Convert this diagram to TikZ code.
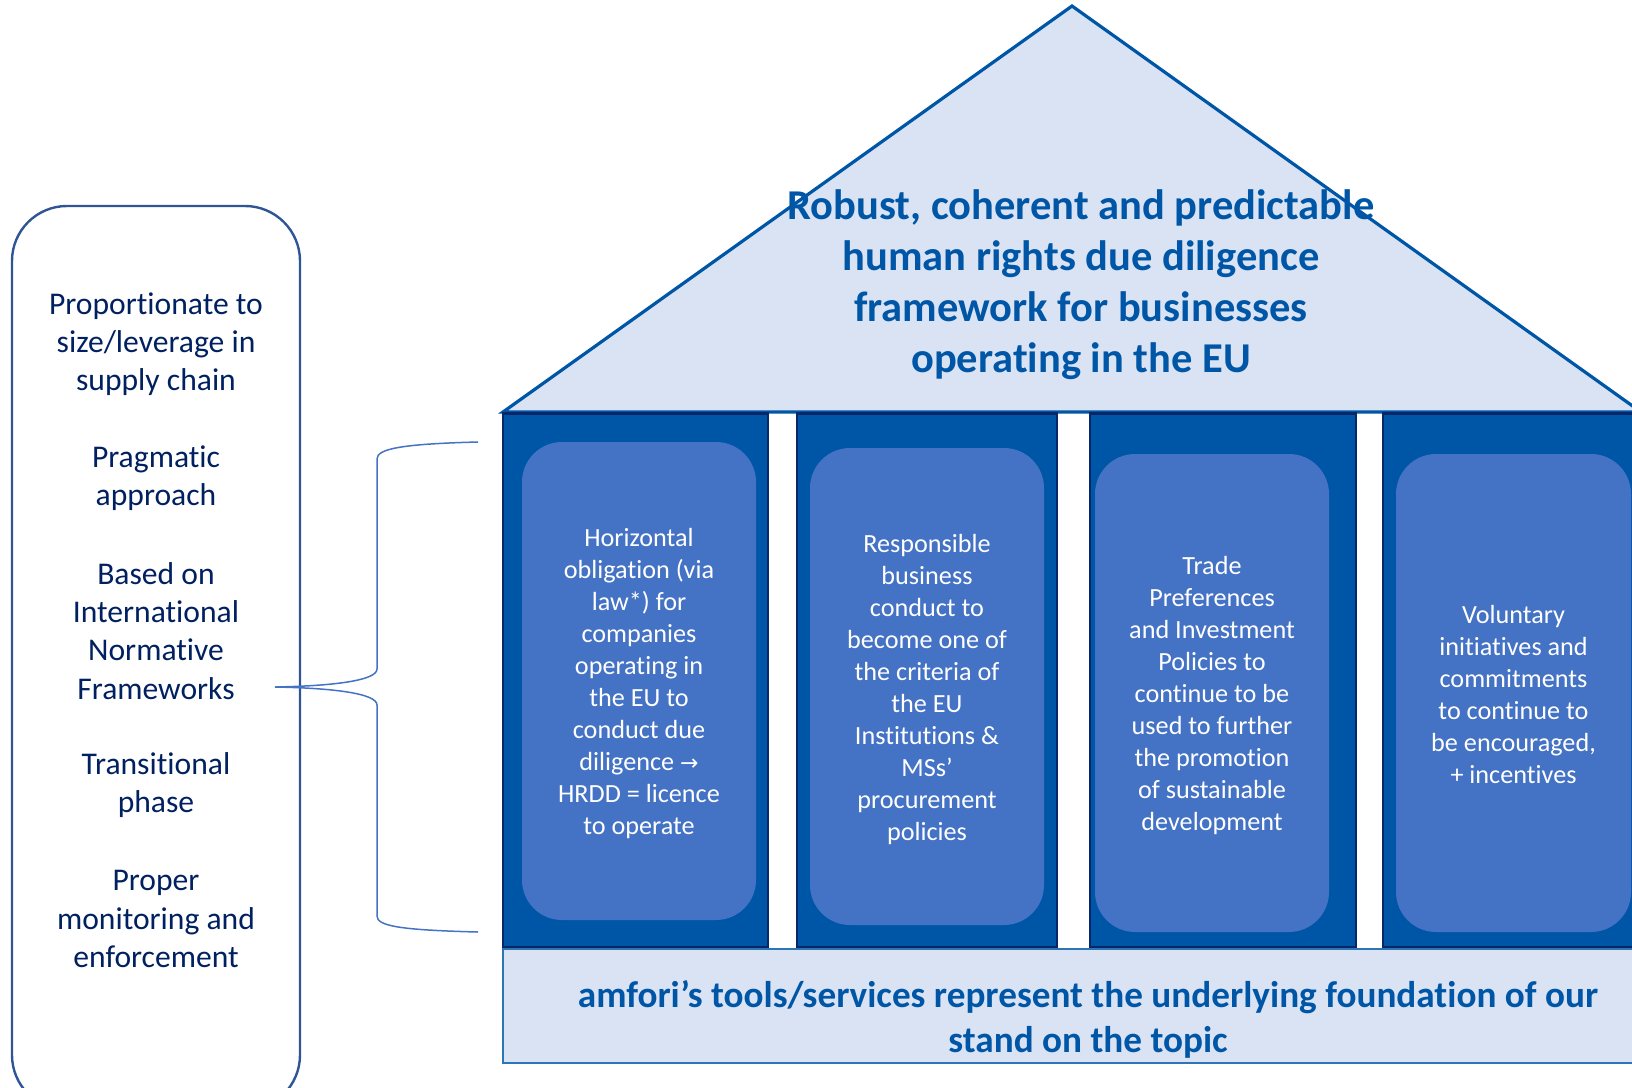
\documentclass[tikz,border=0pt]{standalone}
\usepackage{fontspec}
\setmainfont{Carlito}[Ligatures=NoCommon]
\newfontfamily\djv{DejaVu Sans}
\definecolor{roofFill}{RGB}{218,227,243}
\definecolor{roofLine}{RGB}{0,86,166}
\definecolor{pillarFill}{RGB}{0,86,166}
\definecolor{pillarLine}{RGB}{8,38,104}
\definecolor{boxFill}{RGB}{68,114,196}
\definecolor{titleBlue}{RGB}{0,86,166}
\definecolor{foundLine}{RGB}{46,117,182}
\definecolor{leftText}{RGB}{0,32,96}
\definecolor{leftLine}{RGB}{47,85,151}
\definecolor{braceBlue}{RGB}{68,114,196}
\begin{document}
\begin{tikzpicture}[x=1pt,y=-1pt,
  roofstyle/.style={draw=roofLine,fill=roofFill,line width=3.2pt,line join=miter},
  pillar/.style={draw=pillarLine,fill=pillarFill,line width=2.6pt,outer sep=0pt,inner sep=0pt},
  innerbox/.style={fill=boxFill,rounded corners=40pt,inner sep=0pt,outer sep=0pt},
  boxtext/.style={text=white,align=center,font=\fontsize{26.2}{32}\selectfont},
  titletext/.style={text=titleBlue,align=center,font=\bfseries\fontsize{42.5}{51}\selectfont},
  found/.style={draw=foundLine,fill=roofFill,line width=2.2pt,outer sep=0pt,inner sep=0pt},
  foundtext/.style={text=titleBlue,align=center,font=\bfseries\fontsize{37.2}{45}\selectfont},
  leftbox/.style={draw=leftLine,line width=2.4pt,rounded corners=55pt,inner sep=0pt},
  lefttext/.style={text=leftText,align=center,font=\fontsize{31.6}{38.2}\selectfont},
  bracestyle/.style={draw=braceBlue,line width=1.5pt}
]
\useasboundingbox (0,0) rectangle (1632,1087);
\clip (0,0) rectangle (1632,1087);

% roof
\draw[roofstyle] (503,412) -- (1072,6) -- (1641,412) -- cycle;
\node[titletext] (title) at (1081,285) {Robust, coherent and predictable\\human rights due diligence\\framework for businesses\\operating in the EU};

% pillars
\node[pillar,minimum width=265pt,minimum height=534pt] (p1) at (635.5,680.5) {};
\node[pillar,minimum width=260pt,minimum height=534pt] (p2) at (927,680.5) {};
\node[pillar,minimum width=266pt,minimum height=534pt] (p3) at (1223,680.5) {};
\node[pillar,minimum width=266pt,minimum height=534pt] (p4) at (1516,680.5) {};

% inner boxes
\node[innerbox,minimum width=234pt,minimum height=478pt] (b1) at (639,681) {};
\node[innerbox,minimum width=234pt,minimum height=477pt] (b2) at (927,686.5) {};
\node[innerbox,minimum width=234pt,minimum height=478pt] (b3) at (1212,693) {};
\node[innerbox,minimum width=235pt,minimum height=478pt] (b4) at (1513.5,693) {};
\node[boxtext] (t1) at ([yshift=-3pt]b1.center)
  {Horizontal\\obligation (via\\law*) for\\companies\\operating in\\the EU to\\conduct due\\diligence {\djv\fontsize{22}{32}\selectfont →}\\HRDD = licence\\to operate};
\node[boxtext] (t2) at ([yshift=-3pt]b2.center)
  {Responsible\\business\\conduct to\\become one of\\the criteria of\\the EU\\Institutions \&\\MSs’\\procurement\\policies};
\node[boxtext] (t3) at ([yshift=-3pt]b3.center)
  {Trade\\Preferences\\and Investment\\Policies to\\continue to be\\used to further\\the promotion\\of sustainable\\development};
\node[boxtext] (t4) at ([yshift=-1pt]b4.center)
  {Voluntary\\initiatives and\\commitments\\to continue to\\be encouraged,\\+ incentives};

% foundation
\node[found,minimum width=1180pt,minimum height=114pt] (found) at (1093,1006) {};
\node[foundtext] (ftext) at (1088,1019) {amfori’s tools/services represent the underlying foundation of our\\stand on the topic};

% left box
\node[leftbox,minimum width=288pt,minimum height=904pt] (lbox) at (156,658) {};
\node[lefttext] (l1) at (156,344) {Proportionate to\\size/leverage in\\supply chain};
\node[lefttext] (l2) at (156,478) {Pragmatic\\approach};
\node[lefttext] (l3) at (156,631) {Based on\\International\\Normative\\Frameworks};
\node[lefttext] (l4) at (156,785) {Transitional\\phase};
\node[lefttext] (l5) at (156,919) {Proper\\monitoring and\\enforcement};

% brace
\coordinate (btop) at (478,442);
\coordinate (btip) at (275,687);
\coordinate (bbot) at (478,932);
\draw[bracestyle] (btop) .. controls (400,444) and (377,449) .. (377,459) -- (377,669)
  .. controls (377,681) and (330,686) .. (btip)
  .. controls (330,688) and (377,693) .. (377,705) -- (377,916)
  .. controls (377,926) and (400,930) .. (bbot);
\end{tikzpicture}
\end{document}
